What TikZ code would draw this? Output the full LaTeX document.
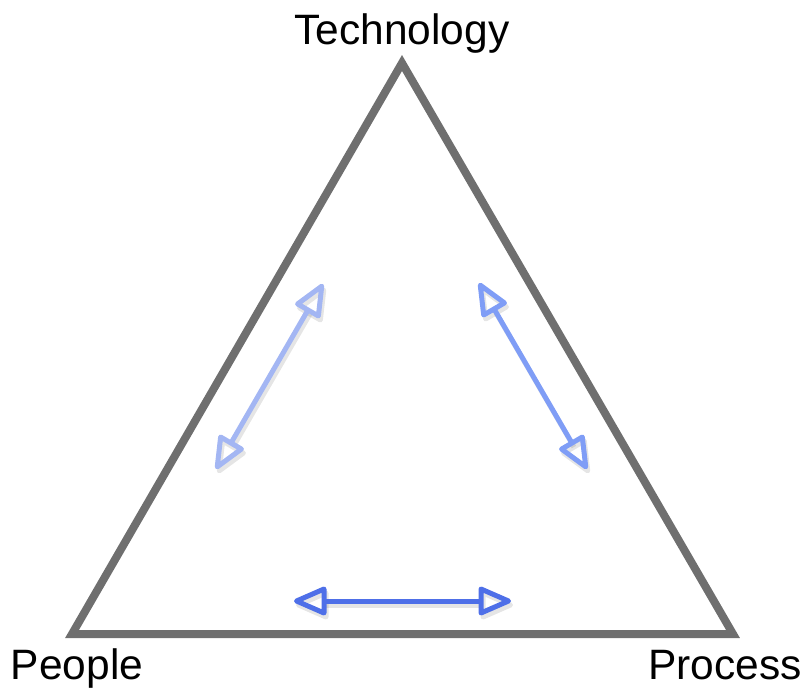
\documentclass[tikz,border=0pt]{standalone}
\usepackage{fontspec}
\setmainfont{Liberation Sans}
\usetikzlibrary{calc}
\definecolor{frame}{HTML}{6F6F6F}
\definecolor{arrA}{HTML}{A3B6F3}
\definecolor{arrB}{HTML}{7F9DF6}
\definecolor{arrC}{HTML}{4E6FE8}
\tikzset{
  lbl/.style={font=\fontsize{42.5}{48}\selectfont, inner sep=0pt, anchor=base},
  arr/.style={line width=5pt, line join=round},
  shd/.style={arr, draw=black, opacity=0.10},
}
% #1 start, #2 end, #3 style
\newcommand\dblarr[3]{%
  \coordinate (hb1) at ($(#1)!30pt!(#2)$);
  \coordinate (hb2) at ($(#2)!30pt!(#1)$);
  \coordinate (ht1) at ($(#1)!2.5pt!(#2)$);
  \coordinate (ht2) at ($(#2)!2.5pt!(#1)$);
  \draw[#3] (hb1) -- (hb2);
  \draw[#3] (ht1) -- ($(hb1)!12pt!90:(#2)$) -- ($(hb1)!12pt!-90:(#2)$) -- cycle;
  \draw[#3] (ht2) -- ($(hb2)!12pt!90:(#1)$) -- ($(hb2)!12pt!-90:(#1)$) -- cycle;
}
\begin{document}
\begin{tikzpicture}[x=1pt,y=-1pt]
\useasboundingbox (0,0) rectangle (806,694);
\coordinate (T) at (402,63);
\coordinate (L) at (72,634);
\coordinate (R) at (733,634);
\draw[frame, line width=8pt, line join=miter] (T) -- (R) -- (L) -- cycle;
\node[lbl] (tech) at (402,44) {Technology};
\node[lbl] (people) at (77,679) {People};
\node[lbl] (process) at (725,679) {Process};
% arrow endpoints
\coordinate (a1) at (216,469);
\coordinate (a2) at (323,284);
\coordinate (b1) at (479,283);
\coordinate (b2) at (587,469);
\coordinate (c1) at (294,601);
\coordinate (c2) at (511,601);
% shadows
\begin{scope}[transform canvas={shift={(2pt,-4pt)}}]
\dblarr{a1}{a2}{shd}
\dblarr{b1}{b2}{shd}
\dblarr{c1}{c2}{shd}
\end{scope}
% arrows
\dblarr{a1}{a2}{arr, draw=arrA}
\dblarr{b1}{b2}{arr, draw=arrB}
\dblarr{c1}{c2}{arr, draw=arrC}
\end{tikzpicture}
\end{document}
